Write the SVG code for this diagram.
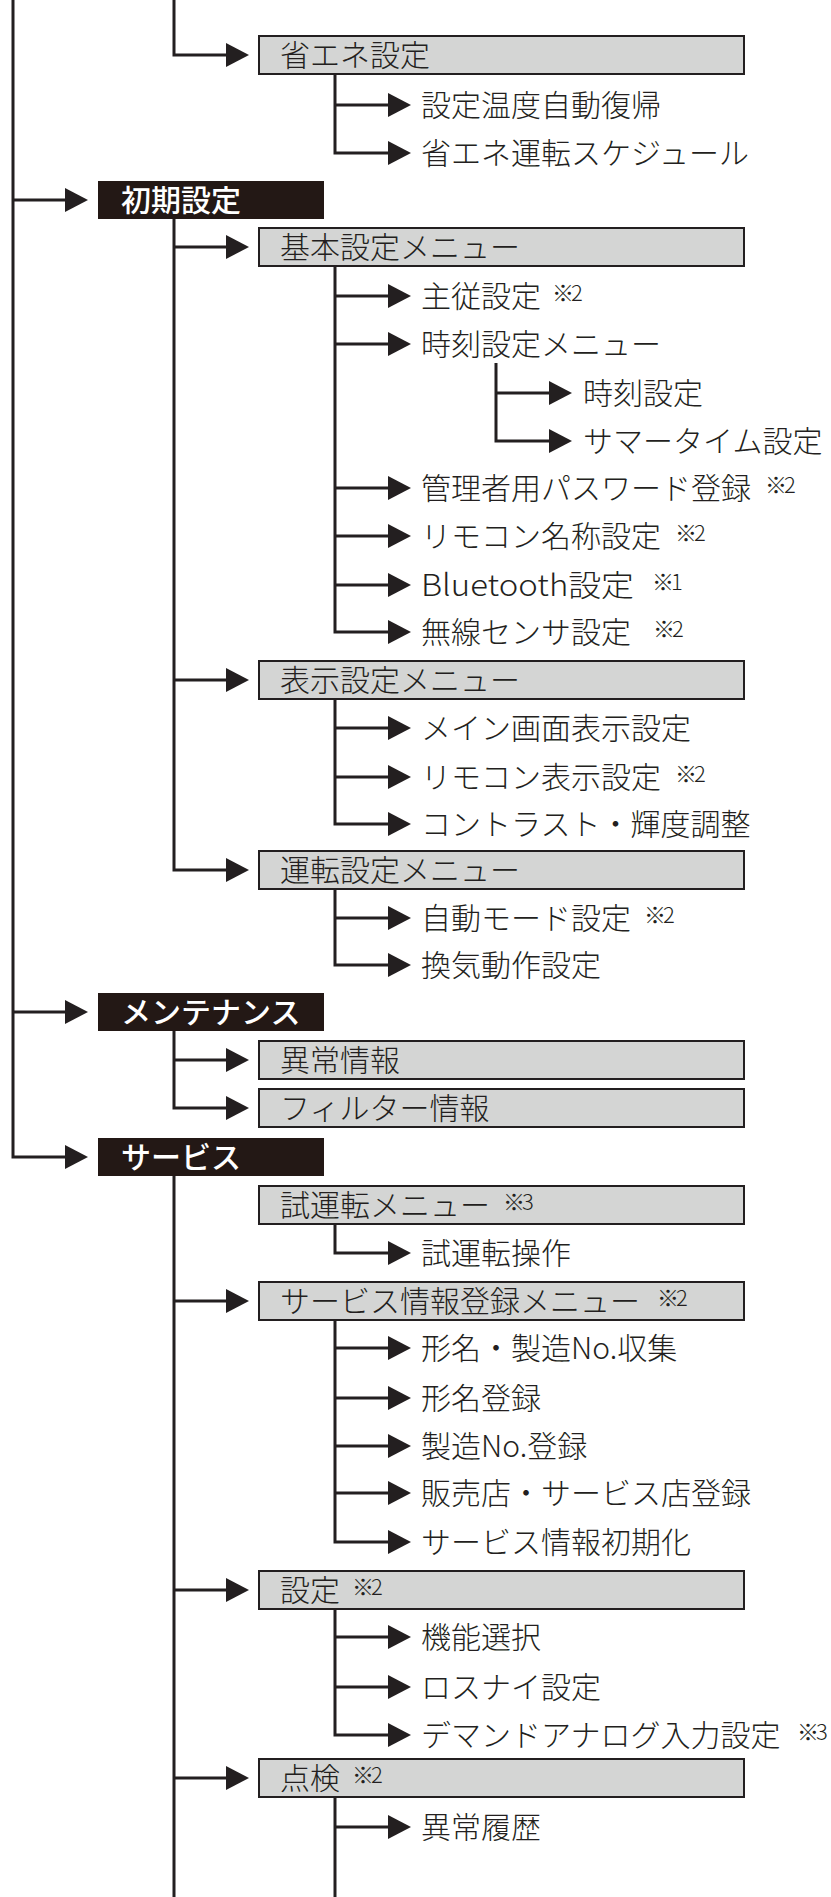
<svg xmlns="http://www.w3.org/2000/svg" width="831" height="1897" viewBox="0 0 831 1897">
<style>
.t{font-family:"Noto Sans CJK JP","Liberation Sans",sans-serif;font-size:30px;font-weight:300;fill:#231f20}
.n{font-family:"Noto Sans CJK JP","Liberation Sans",sans-serif;font-size:22px;font-weight:300;fill:#231f20;letter-spacing:-3px}
.w{font-family:"Noto Sans CJK JP","Liberation Sans",sans-serif;font-size:30px;fill:#ffffff;font-weight:500}
.g{fill:#d4d5d4;stroke:#231f20;stroke-width:2}
.b{fill:#231815}
.c path{fill:none;stroke:#231f20;stroke-width:3;stroke-linejoin:miter;marker-end:url(#ah)}
.c path.nm{marker-end:none}
</style>
<defs>
<marker id="ah" markerUnits="userSpaceOnUse" markerWidth="23" markerHeight="24" refX="0" refY="12" orient="auto" overflow="visible">
<path d="M0,0 L23,12 L0,24 Z" fill="#231f20" stroke="none"/>
</marker>
</defs>
<rect width="831" height="1897" fill="#ffffff"/>
<g id="connectors" class="c">
<path d="M13,0 V1157 H65"/>
<path d="M13,200 H65"/>
<path d="M13,1012 H65"/>
<path d="M174,0 V55 H226"/>
<path d="M174,219 V870 H226"/>
<path d="M174,247 H226"/>
<path d="M174,680 H226"/>
<path d="M174,1031 V1108 H226"/>
<path d="M174,1060 H226"/>
<path class="nm" d="M174,1176 V1897"/>
<path d="M174,1301 H226"/>
<path d="M174,1590 H226"/>
<path d="M174,1778 H226"/>
<path d="M335,74 V153 H388"/>
<path d="M335,105 H388"/>
<path d="M335,266 V632 H388"/>
<path d="M335,296 H388"/>
<path d="M335,344 H388"/>
<path d="M335,488 H388"/>
<path d="M335,536 H388"/>
<path d="M335,585 H388"/>
<path d="M496,363 V441 H549"/>
<path d="M496,393 H549"/>
<path d="M335,699 V824 H388"/>
<path d="M335,728 H388"/>
<path d="M335,777 H388"/>
<path d="M335,889 V965 H388"/>
<path d="M335,918 H388"/>
<path d="M335,1224 V1253 H388"/>
<path d="M335,1320 V1542 H388"/>
<path d="M335,1348 H388"/>
<path d="M335,1398 H388"/>
<path d="M335,1446 H388"/>
<path d="M335,1493 H388"/>
<path d="M335,1609 V1735 H388"/>
<path d="M335,1637 H388"/>
<path d="M335,1687 H388"/>
<path class="nm" d="M335,1797 V1897"/>
<path d="M335,1827 H388"/>
</g>
<g id="n-shoene"><rect class="g" x="259" y="36" width="485" height="38"/><text class="t" x="280" y="66">省エネ設定</text></g>
<g id="n-ondo"><text class="t" x="421" y="116">設定温度自動復帰</text></g>
<g id="n-schedule"><text class="t" x="421" y="164">省エネ運転スケジュール</text></g>
<g id="n-shoki"><rect class="b" x="98" y="181" width="226" height="38"/><text class="w" x="121" y="211">初期設定</text></g>
<g id="n-kihon"><rect class="g" x="259" y="228" width="485" height="38"/><text class="t" x="280" y="258">基本設定メニュー</text></g>
<g id="n-shuju"><text class="t" x="421" y="307">主従設定</text><text class="n" x="552" y="301">※2</text></g>
<g id="n-jikokumenu"><text class="t" x="421" y="355">時刻設定メニュー</text></g>
<g id="n-jikoku"><text class="t" x="583" y="404">時刻設定</text></g>
<g id="n-summer"><text class="t" x="583" y="452">サマータイム設定</text></g>
<g id="n-password"><text class="t" x="421" y="499">管理者用パスワード登録</text><text class="n" x="765" y="493">※2</text></g>
<g id="n-rcname"><text class="t" x="421" y="547">リモコン名称設定</text><text class="n" x="675" y="541">※2</text></g>
<g id="n-bt"><text class="t" x="421" y="596" textLength="213" lengthAdjust="spacingAndGlyphs">Bluetooth設定</text><text class="n" x="652" y="590">※1</text></g>
<g id="n-musen"><text class="t" x="421" y="643">無線センサ設定</text><text class="n" x="653" y="637">※2</text></g>
<g id="n-hyoji"><rect class="g" x="259" y="661" width="485" height="38"/><text class="t" x="280" y="691">表示設定メニュー</text></g>
<g id="n-main"><text class="t" x="421" y="739">メイン画面表示設定</text></g>
<g id="n-rchyoji"><text class="t" x="421" y="788">リモコン表示設定</text><text class="n" x="675" y="782">※2</text></g>
<g id="n-contrast"><text class="t" x="421" y="835">コントラスト・輝度調整</text></g>
<g id="n-unten"><rect class="g" x="259" y="851" width="485" height="38"/><text class="t" x="280" y="881">運転設定メニュー</text></g>
<g id="n-auto"><text class="t" x="421" y="929">自動モード設定</text><text class="n" x="644" y="923">※2</text></g>
<g id="n-kanki"><text class="t" x="421" y="976">換気動作設定</text></g>
<g id="n-maint"><rect class="b" x="98" y="993" width="226" height="38"/><text class="w" x="121" y="1023">メンテナンス</text></g>
<g id="n-ijo"><rect class="g" x="259" y="1041" width="485" height="38"/><text class="t" x="280" y="1071">異常情報</text></g>
<g id="n-filter"><rect class="g" x="259" y="1089" width="485" height="38"/><text class="t" x="280" y="1119">フィルター情報</text></g>
<g id="n-service"><rect class="b" x="98" y="1138" width="226" height="38"/><text class="w" x="121" y="1168">サービス</text></g>
<g id="n-shiunten"><rect class="g" x="259" y="1186" width="485" height="38"/><text class="t" x="280" y="1216">試運転メニュー</text><text class="n" x="503" y="1210">※3</text></g>
<g id="n-shiuntensosa"><text class="t" x="421" y="1264">試運転操作</text></g>
<g id="n-servinfo"><rect class="g" x="259" y="1282" width="485" height="38"/><text class="t" x="280" y="1312">サービス情報登録メニュー</text><text class="n" x="657" y="1306">※2</text></g>
<g id="n-collect"><text class="t" x="421" y="1359">形名・製造No.収集</text></g>
<g id="n-katamei"><text class="t" x="421" y="1409">形名登録</text></g>
<g id="n-seizo"><text class="t" x="421" y="1457">製造No.登録</text></g>
<g id="n-hanbai"><text class="t" x="421" y="1504">販売店・サービス店登録</text></g>
<g id="n-init"><text class="t" x="421" y="1553">サービス情報初期化</text></g>
<g id="n-settei"><rect class="g" x="259" y="1571" width="485" height="38"/><text class="t" x="280" y="1601">設定</text><text class="n" x="352" y="1595">※2</text></g>
<g id="n-kino"><text class="t" x="421" y="1648">機能選択</text></g>
<g id="n-lossnay"><text class="t" x="421" y="1698">ロスナイ設定</text></g>
<g id="n-demand"><text class="t" x="421" y="1746">デマンドアナログ入力設定</text><text class="n" x="797" y="1740">※3</text></g>
<g id="n-tenken"><rect class="g" x="259" y="1759" width="485" height="38"/><text class="t" x="280" y="1789">点検</text><text class="n" x="352" y="1783">※2</text></g>
<g id="n-rireki"><text class="t" x="421" y="1838">異常履歴</text></g>
</svg>
